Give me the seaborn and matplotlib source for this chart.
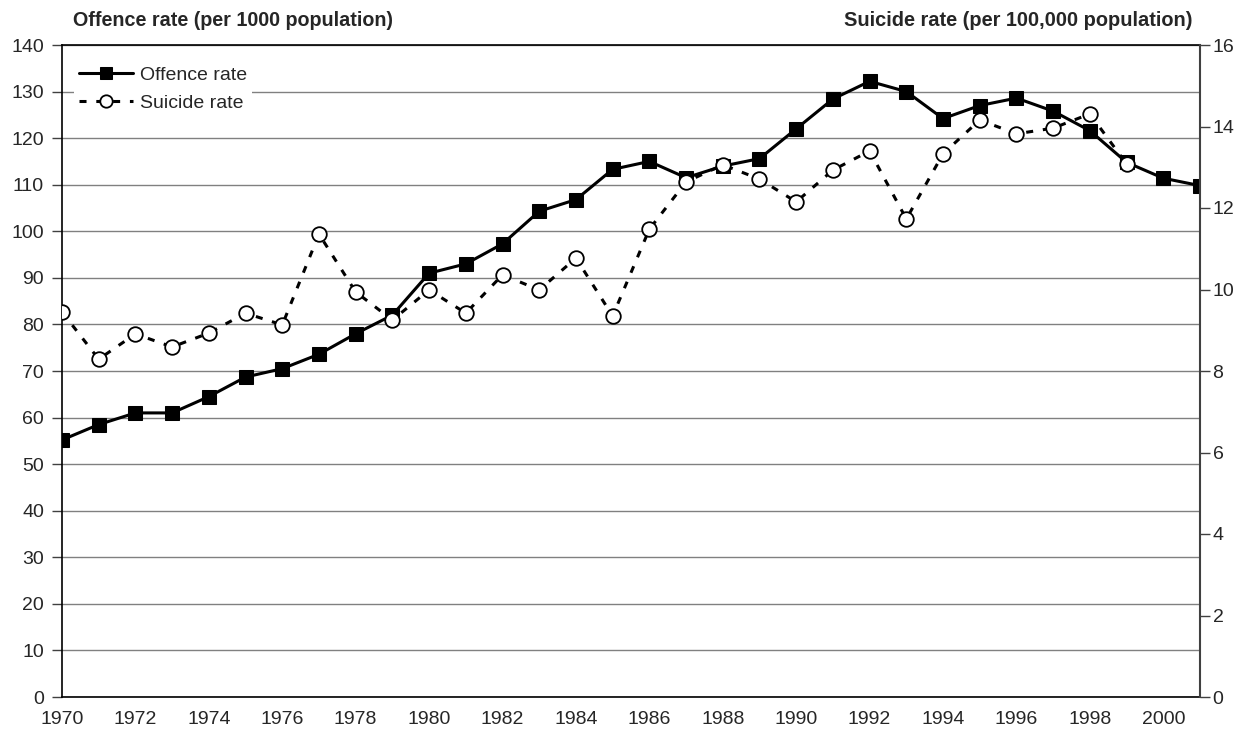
import matplotlib
matplotlib.use("Agg")
import matplotlib.pyplot as plt
import seaborn as sns
import pandas as pd
import numpy as np

years = list(range(1970, 2002))
offence_rate = [55.2, 58.5, 61.0, 61.0, 64.5, 68.7, 70.5, 73.6, 78.0, 82.0,
                91.0, 93.0, 97.3, 104.3, 106.8, 113.3, 115.0, 111.5, 114.0, 115.6,
                122.0, 128.4, 132.2, 130.0, 124.2, 127.0, 128.6, 125.8, 121.6, 114.8,
                111.4, 109.8]
suicide_years = list(range(1970, 2000))
suicide_rate = [9.45, 8.29, 8.91, 8.59, 8.93, 9.42, 9.13, 11.36, 9.94, 9.25,
                9.99, 9.42, 10.36, 9.99, 10.77, 9.35, 11.48, 12.64, 13.06, 12.71,
                12.15, 12.93, 13.40, 11.73, 13.33, 14.16, 13.82, 13.96, 14.31, 13.08]
left_ticks = list(range(0, 141, 10))
right_ticks = list(range(0, 17, 2))
x_ticks = list(range(1970, 2001, 2))

df_off = pd.DataFrame({"year": years, "rate": offence_rate})
df_sui = pd.DataFrame({"year": suicide_years, "rate": suicide_rate})

sns.set_style("white")
plt.rcParams['font.family'] = ['Liberation Sans', 'DejaVu Sans']

fig = plt.figure(figsize=(12.5, 7.35), dpi=100)
ax = fig.add_axes([62/1250, 38/735, (1200-62)/1250, (697-45)/735])

sns.lineplot(data=df_off, x="year", y="rate", ax=ax, color="black", linewidth=2.2,
             marker="s", markersize=10, markeredgecolor="black", markerfacecolor="black",
             label="Offence rate", legend=False, zorder=3)

ax.set_xlim(1970, 2001)
ax.set_ylim(0, 140)
ax.set_yticks(left_ticks)
ax.set_xticks(x_ticks)
ax.set_xticklabels([str(t) for t in x_ticks])
ax.set_xlabel("")
ax.set_ylabel("")
ax.grid(axis="y", color="#808080", linewidth=1.0, zorder=0)
ax.grid(axis="x", visible=False)
ax.set_axisbelow(True)
ax.tick_params(axis="y", direction="out", length=7, width=1, color="#404040",
               labelsize=14, pad=6, left=True)
ax.tick_params(axis="x", length=0, labelsize=14, pad=10)
for side in ["left", "bottom", "top"]:
    ax.spines[side].set_color("black")
    ax.spines[side].set_linewidth(1.2)
ax.spines["right"].set_visible(False)

ax2 = ax.twinx()
sns.lineplot(data=df_sui, x="year", y="rate", ax=ax2, color="black", linewidth=2.2,
             linestyle=(0, (2.3, 3.2)), marker="o", markersize=10.5,
             markeredgecolor="black", markerfacecolor="white", markeredgewidth=1.3,
             label="Suicide rate", legend=False, zorder=4)
ax2.set_ylim(0, 16)
ax2.set_yticks(right_ticks)
ax2.set_ylabel("")
ax2.tick_params(axis="y", direction="out", length=7, width=1, color="#404040",
                labelsize=14, pad=2)
ax2.spines["right"].set_color("#404040")
ax2.spines["right"].set_linewidth(1.5)
for side in ["left", "bottom", "top"]:
    ax2.spines[side].set_visible(False)
ax2.grid(False)

h1, l1 = ax.get_legend_handles_labels()
h2, l2 = ax2.get_legend_handles_labels()
leg = ax2.legend(h1 + h2, l1 + l2, loc="upper left",
                 bbox_to_anchor=(64/1250, (735-52)/735), bbox_transform=fig.transFigure,
                 frameon=True, facecolor="white", edgecolor="none", framealpha=1,
                 fontsize=14, handlelength=2.8, handletextpad=0.35, borderpad=0.25,
                 labelspacing=0.5, fancybox=False, markerscale=0.85)
leg.set_zorder(10)

fig.text(73/1250, 1 - 20/735, "Offence rate (per 1000 population)", ha="left", va="center",
         fontsize=14.2, fontweight="bold")
fig.text(1193/1250, 1 - 20/735, "Suicide rate (per 100,000 population)", ha="right", va="center",
         fontsize=14.4, fontweight="bold")

fig.savefig("out.png", dpi=100)
